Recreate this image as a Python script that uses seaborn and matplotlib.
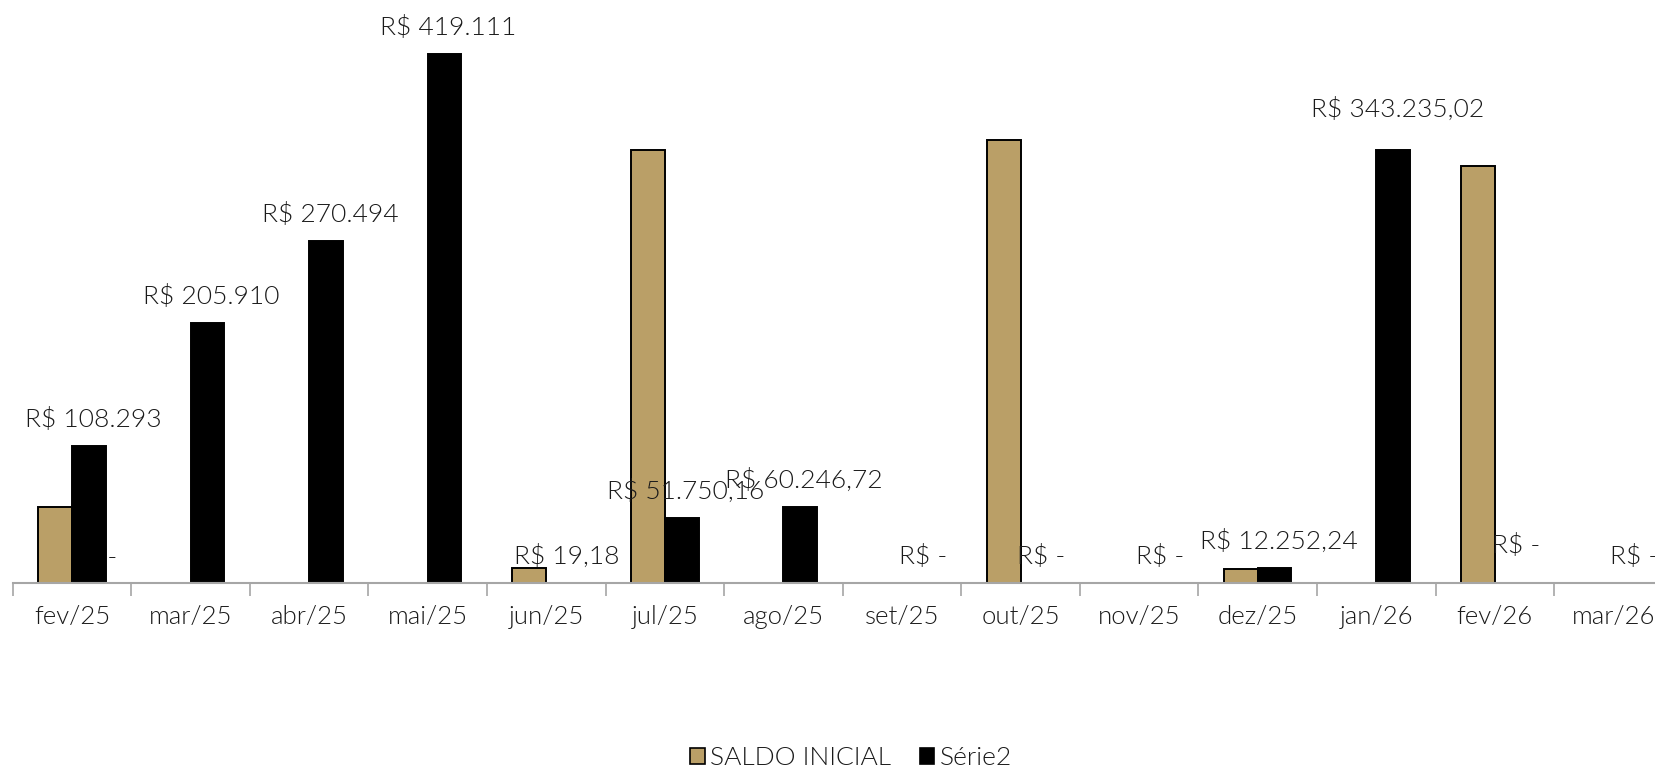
import matplotlib
matplotlib.use("Agg")
import matplotlib.pyplot as plt
from matplotlib.patches import Rectangle
import seaborn as sns
import pandas as pd

months = ["fev/25", "mar/25", "abr/25", "mai/25", "jun/25", "jul/25", "ago/25",
          "set/25", "out/25", "nov/25", "dez/25", "jan/26", "fev/26", "mar/26"]
saldo_inicial = [60200, 0, 0, 0, 11900, 342900, 0, 0, 350800, 0, 10850, 0, 330300, 0]
serie2 = [108293, 205910, 270494, 419111, 19.18, 51750.16, 60246.72, 0, 0, 0,
          12252.24, 343235.02, 0, 0]
serie2_labels = ["R$ 108.293", "R$ 205.910", "R$ 270.494", "R$ 419.111", "R$ 19,18",
                 "R$ 51.750,16", "R$ 60.246,72", "R$ -", "R$ -", "R$ -",
                 "R$ 12.252,24", "R$ 343.235,02", "R$ -", "R$ -"]
series_names = ["SALDO INICIAL", "Série2"]

TAN = "#BA9F67"
BLACK = "#000000"
GRAY = "#A6A6A6"
TXT = "#1a1a1a"

df = pd.DataFrame({
    "mes": months * 2,
    "valor": saldo_inicial + serie2,
    "serie": [series_names[0]] * len(months) + [series_names[1]] * len(months),
})

sns.set_theme(style="white")
plt.rcParams["font.family"] = ["Lato", "DejaVu Sans"]
plt.rcParams["font.weight"] = 300

W, H = 1655, 770
fig = plt.figure(figsize=(W / 100, H / 100), dpi=100)
ax = fig.add_axes([12.7 / W, (H - 583) / H, 1660 / W, 583 / H])

sns.barplot(data=df, x="mes", y="valor", hue="serie", order=months,
            hue_order=series_names, palette=[TAN, BLACK], width=0.57,
            saturation=1, edgecolor="black", linewidth=1.4, ax=ax, legend=False)

for p in ax.patches:
    if p.get_height() == 0:
        p.set_visible(False)

ax.set_xlim(-0.5, len(months) - 0.5)
ax.set_ylim(0, 419111 * 583 / 529.3)

for s in ["top", "right", "left"]:
    ax.spines[s].set_visible(False)
ax.spines["bottom"].set_color(GRAY)
ax.spines["bottom"].set_linewidth(1.5)
ax.set_yticks([])
ax.set_xlabel("")
ax.set_ylabel("")
ax.set_xticks(range(len(months)))
ax.set_xticklabels(months, fontsize=18.5, color=TXT, fontweight=300)
ax.tick_params(axis="x", which="major", length=0, pad=16)
ax.set_xticks([i - 0.5 for i in range(len(months) + 1)], minor=True)
ax.tick_params(axis="x", which="minor", length=9.5, width=1.2, color=GRAY,
               direction="out", bottom=True)

# data labels for Série2
extra_dy = {11: 14, 12: 11}
for i, (v, lab) in enumerate(zip(serie2, serie2_labels)):
    dy = 26 + extra_dy.get(i, 0)
    ax.annotate(lab, xy=(i + 0.1425, v), xytext=(4, dy), textcoords="offset pixels",
                ha="center", va="center", fontsize=19, color=TXT, fontweight=300)

# hidden label behind fev/25 bar
ax.annotate("R$ -", xy=(0.1425, 0), xytext=(4, 25), textcoords="offset pixels",
            ha="center", va="center", fontsize=19, color=TXT, fontweight=300,
            zorder=0.5)

handles = [Rectangle((0, 0), 1, 1, facecolor=TAN, edgecolor="black", linewidth=1.2),
           Rectangle((0, 0), 1, 1, facecolor=BLACK, edgecolor="black", linewidth=1.2)]
leg = fig.legend(handles, series_names, loc="center", bbox_to_anchor=(851 / W, 12 / H),
                 ncol=2, frameon=False, fontsize=19, handlelength=0.55,
                 handleheight=0.55, handletextpad=0.2, columnspacing=1.1,
                 labelcolor=TXT, prop={"weight": 300, "size": 19})

fig.savefig("out.png", dpi=100)
